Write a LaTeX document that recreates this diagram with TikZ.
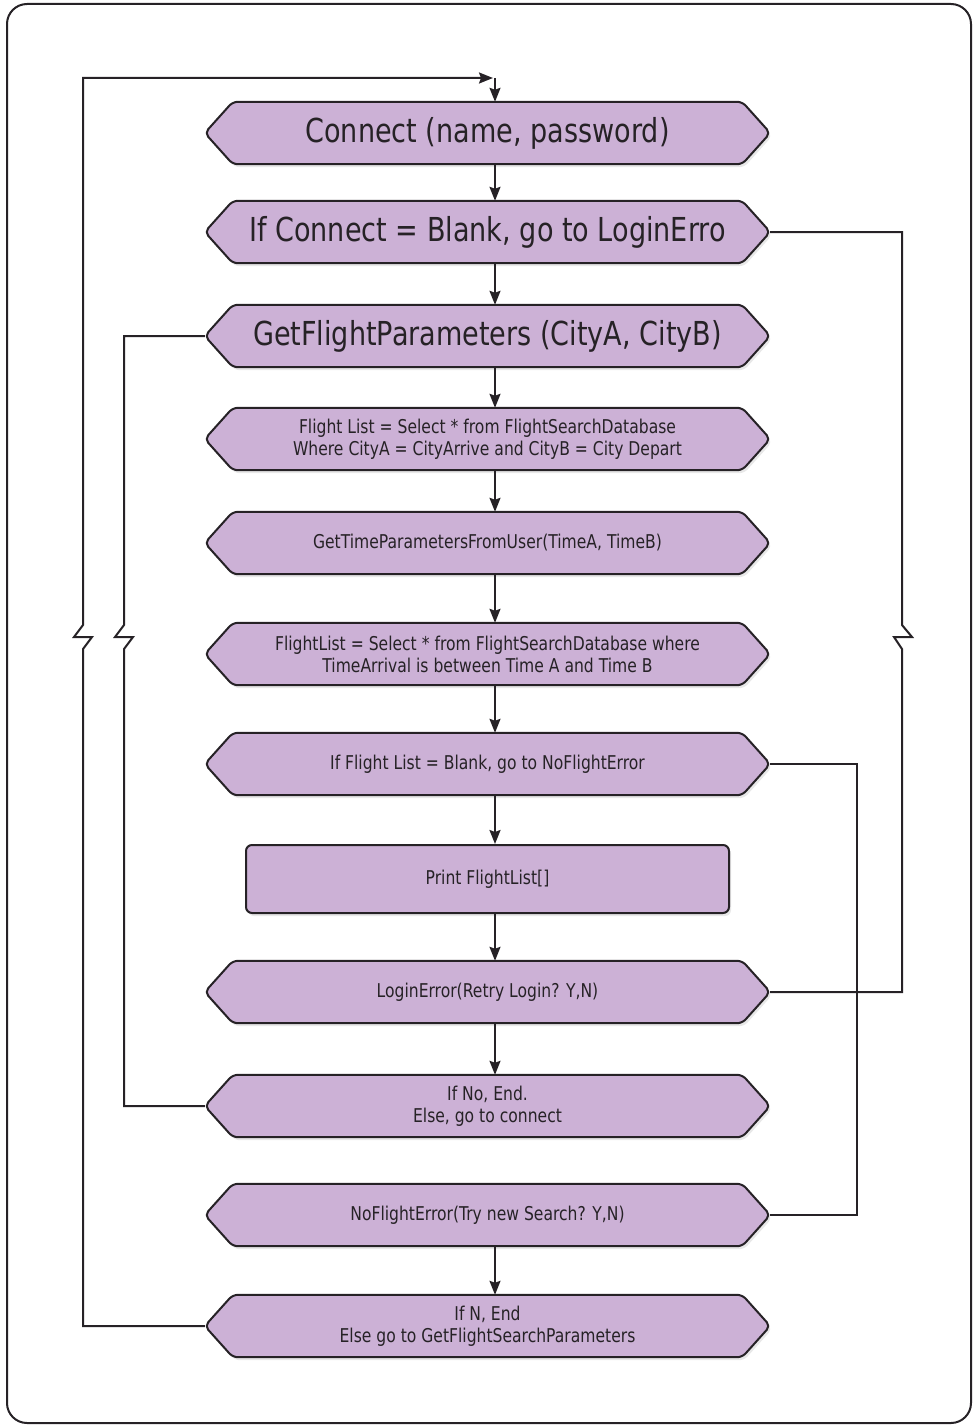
\documentclass[tikz,border=0pt]{standalone}
\usepackage{fontspec}
\setmainfont{DejaVu Sans}[FakeStretch=0.82]
\usetikzlibrary{arrows.meta,shadows,backgrounds}
\definecolor{boxfill}{RGB}{204,177,214}
\definecolor{ink}{RGB}{38,34,38}

% hexagonal step: name, vertical position, text style, text
\newcommand\hexstep[4]{%
  \node[hexbox,#3] (#1) at (487.5,#2) {#4};
  \begin{scope}[on background layer]
    \path[boxline,rounded corners=5pt] (#1.west)
      -- ([xshift=28pt]#1.north west) -- ([xshift=-28pt]#1.north east)
      -- (#1.east)
      -- ([xshift=-28pt]#1.south east) -- ([xshift=28pt]#1.south west)
      -- cycle;
  \end{scope}}

\begin{document}
\begin{tikzpicture}[x=1pt,y=-1pt,
  boxline/.style={draw=ink,line width=2pt,fill=boxfill,line join=round,
    drop shadow={shadow xshift=2pt,shadow yshift=-3pt,opacity=0.18}},
  hexbox/.style={minimum width=565pt,minimum height=62pt,inner sep=0pt,
    text=ink,align=center},
  rectbox/.style={boxline,rounded corners=6pt,minimum width=483pt,
    minimum height=68pt,inner sep=0pt,text=ink,align=center},
  bigtext/.style={font=\fontsize{33}{38}\selectfont},
  smalltext/.style={font=\fontsize{19}{22}\selectfont},
  wire/.style={draw=ink,line width=2pt},
  flow/.style={wire,-{Stealth[length=14pt,width=11pt,inset=2pt]}},
]
\useasboundingbox (0,0) rectangle (976,1426);
\draw[wire,rounded corners=20pt] (7,4) rectangle (971,1423);

% steps
\hexstep{n1}{133}{bigtext}{Connect (name, password)}
\hexstep{n2}{232}{bigtext}{If Connect = Blank, go to LoginErro}
\hexstep{n3}{336}{bigtext}{GetFlightParameters (CityA, CityB)}
\hexstep{n4}{439}{smalltext}{Flight List = Select * from FlightSearchDatabase\\Where CityA = CityArrive and CityB = City Depart}
\hexstep{n5}{543}{smalltext}{GetTimeParametersFromUser(TimeA, TimeB)}
\hexstep{n6}{654}{smalltext}{FlightList = Select * from FlightSearchDatabase where\\TimeArrival is between Time A and Time B}
\hexstep{n7}{764}{smalltext}{If Flight List = Blank, go to NoFlightError}
\node[rectbox,smalltext] (n8) at (487.5,879) {Print FlightList[]};
\hexstep{n9}{992}{smalltext}{LoginError(Retry Login? Y,N)}
\hexstep{n10}{1106}{smalltext}{If No, End.\\Else, go to connect}
\hexstep{n11}{1215}{smalltext}{NoFlightError(Try new Search? Y,N)}
\hexstep{n12}{1326}{smalltext}{If N, End\\Else go to GetFlightSearchParameters}

% guide coordinates for the connectors
\coordinate (ax) at (495,0);
\coordinate (tipx) at (493,0);
\coordinate (topy) at (0,78);
\coordinate (rx1) at (902,0);
\coordinate (rx2) at (857,0);
\coordinate (lx1) at (124,0);
\coordinate (lx2) at (83,0);

% main flow
\foreach \a/\b in {n1/n2,n2/n3,n3/n4,n4/n5,n5/n6,n6/n7,n7/n8,n8/n9,n9/n10,n11/n12}
  \draw[flow] (\a.south -| ax) -- (\b.north -| ax);

% branch to the login error (with a line break mark)
\draw[wire] (n2.east) -- (n2.east -| rx1) -- ++(0,393)
  -- ++(10,12) -- ++(-18,0) -- ++(8,12)
  -- (n9.east -| rx1) -- (n9.east);

% branch to the no-flight error
\draw[wire] (n7.east) -- (n7.east -| rx2) -- (n11.east -| rx2) -- (n11.east);

% retry the search
\draw[wire] (n10.west) -- (n10.west -| lx1) -- ++(0,-457)
  -- ++(9,-12) -- ++(-18,0) -- ++(9,-12)
  -- (n3.west -| lx1) -- (n3.west);

% back to connect
\draw[flow] (n12.west) -- (n12.west -| lx2) -- ++(0,-677)
  -- ++(9,-12) -- ++(-18,0) -- ++(9,-12)
  -- (lx2 |- topy) -- (topy -| tipx);
\draw[flow] (topy -| ax) -- (n1.north -| ax);
\end{tikzpicture}
\end{document}
